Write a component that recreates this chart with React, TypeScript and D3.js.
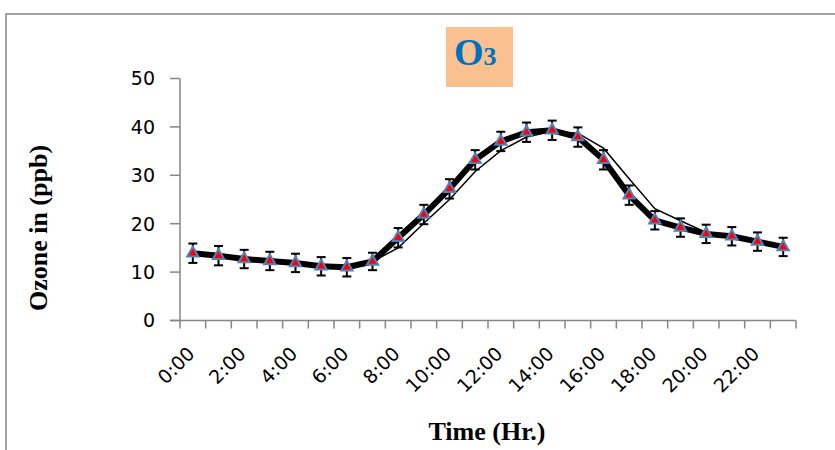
import React from 'react'
import * as d3 from 'd3'

const hours = d3.range(24).map(h => `${h}:00`)
const ozoneMean = [13.9, 13.4, 12.7, 12.3, 11.9, 11.2, 11.0, 12.2, 17.1, 21.9, 27.2, 33.2, 37.0, 38.9, 39.3, 37.9, 33.2, 25.9, 20.7, 19.2, 17.9, 17.4, 16.3, 15.2]
const ozoneErr = [2.0, 2.0, 1.9, 1.9, 1.9, 1.9, 1.9, 1.8, 2.0, 2.0, 2.0, 2.0, 2.0, 2.0, 2.0, 2.0, 2.0, 2.0, 1.9, 1.9, 1.9, 1.9, 1.9, 1.9]
const ozoneOther = [13.9, 13.4, 12.7, 12.3, 11.9, 11.2, 11.0, 12.2, 15.0, 20.1, 25.0, 30.8, 35.1, 37.9, 39.1, 38.7, 35.6, 29.3, 23.1, 20.6, 18.2, 17.5, 16.3, 15.2]
const yTicks = [0, 10, 20, 30, 40, 50]

const axisGrey = '#868686'

const App = () => {
  const x = d3.scaleBand<string>().domain(hours).range([180, 796]).padding(0)
  const y = d3.scaleLinear().domain([0, 50]).range([320.5, 78.5])
  const cx = (i: number) => x(hours[i])! + x.bandwidth() / 2

  const line = d3.line<number>()
    .x((d, i) => cx(i))
    .y(d => y(d))

  const tri = d3.symbol().type(d3.symbolTriangle).size(55)

  const boundaries = d3.range(25).map(i => 180 + i * x.bandwidth())

  return (
    <svg width={835} height={450} style={{ position: 'absolute', left: 0, top: 0 }}>
      <rect x={0} y={0} width={835} height={450} fill="#fff" />
      <rect x={6} y={14} width={840} height={450} fill="none" stroke={axisGrey} strokeWidth={1.5} />

      {/* title badge */}
      <rect x={446} y={27} width={67} height={60} fill="#FAC090" />
      <text x={454} y={65} fill="#0070C0" fontFamily="Liberation Serif" fontWeight="bold" fontSize={38}>
        O<tspan fontSize={26}>3</tspan>
      </text>

      {/* y axis */}
      <line x1={180} x2={180} y1={y(50)} y2={y(0)} stroke={axisGrey} strokeWidth={1.5} />
      {yTicks.map(t => (
        <g key={t}>
          <line x1={170} x2={180} y1={y(t)} y2={y(t)} stroke={axisGrey} strokeWidth={1.5} />
          <text x={155} y={y(t)} dy="0.36em" textAnchor="end" fontFamily="DejaVu Sans" fontSize={19} fill="#000">{t}</text>
        </g>
      ))}

      {/* x axis */}
      <line x1={170} x2={796} y1={y(0)} y2={y(0)} stroke={axisGrey} strokeWidth={1.5} />
      {boundaries.map((b, i) => (
        <line key={i} x1={b} x2={b} y1={y(0)} y2={y(0) + 8} stroke={axisGrey} strokeWidth={1.5} />
      ))}
      {hours.map((h, i) => i % 2 === 0 ? (
        <text key={h} transform={`translate(${cx(i) + 3},355) rotate(-45)`} textAnchor="end"
          fontFamily="DejaVu Sans" fontSize={19} fill="#000">{h}</text>
      ) : null)}

      {/* series */}
      <path d={line(ozoneOther)!} fill="none" stroke="#000" strokeWidth={1.5} />
      <path d={line(ozoneMean)!} fill="none" stroke="#000" strokeWidth={6} strokeLinejoin="round" />
      {ozoneMean.map((v, i) => (
        <g key={i} stroke="#000" strokeWidth={2}>
          <line x1={cx(i)} x2={cx(i)} y1={y(v - ozoneErr[i])} y2={y(v + ozoneErr[i])} />
          <line x1={cx(i) - 4.5} x2={cx(i) + 4.5} y1={y(v + ozoneErr[i])} y2={y(v + ozoneErr[i])} />
          <line x1={cx(i) - 4.5} x2={cx(i) + 4.5} y1={y(v - ozoneErr[i])} y2={y(v - ozoneErr[i])} />
        </g>
      ))}
      {ozoneMean.map((v, i) => (
        <path key={i} d={tri()!} transform={`translate(${cx(i)},${y(v)})`} fill="#FF0000" stroke="#4F81BD" strokeWidth={2} />
      ))}

      {/* axis titles */}
      <text transform={`translate(47,228) rotate(-90)`} textAnchor="middle" fontFamily="Liberation Serif"
        fontWeight="bold" fontSize={26} fill="#000">Ozone in (ppb)</text>
      <text x={487} y={440} textAnchor="middle" fontFamily="Liberation Serif" fontWeight="bold" fontSize={26} fill="#000">Time (Hr.)</text>
    </svg>
  )
}

export default App
